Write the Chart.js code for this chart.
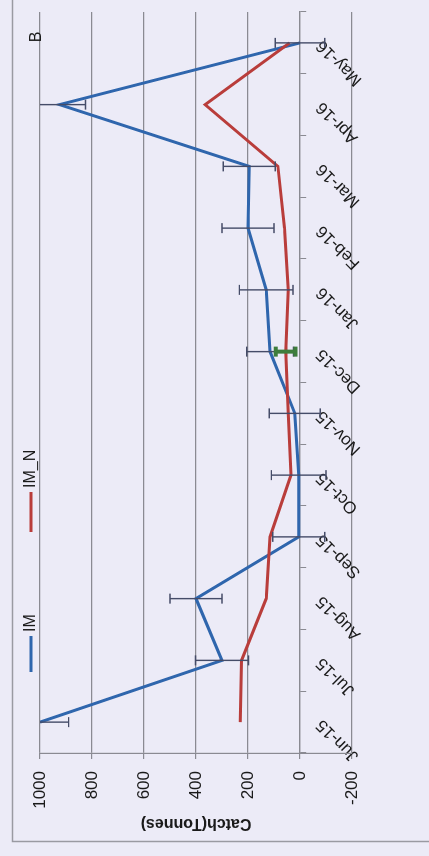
<!DOCTYPE html>
<html lang="en">
<head>
<meta charset="UTF-8">
<title>Catch (Tonnes) - IM / IM_N</title>
<script src="https://cdn.jsdelivr.net/npm/chart.js"></script>
<style>
  html, body { margin: 0; padding: 0; background: #ecebf7; }
  #wrap { position: relative; width: 429px; height: 856px; overflow: hidden; }
  /* the chart is drawn landscape, then turned a quarter to the left like the photo */
  #chart {
    position: absolute; left: 0; top: 0;
    width: 856px; height: 429px;
    transform-origin: 0 0;
    transform: translate(0, 856px) rotate(-90deg);
  }
</style>
</head>
<body>
<div id="wrap"><canvas id="chart" width="856" height="429"></canvas></div>

<script>
const months = ['Jun-15', 'Jul-15', 'Aug-15', 'Sep-15', 'Oct-15', 'Nov-15',
                'Dec-15', 'Jan-16', 'Feb-16', 'Mar-16', 'Apr-16', 'May-16'];
const imCatch  = [1000, 300, 400, 5, 5, 20, 115, 130, 200, 195, 925, 0];
const imError  = [110, 102, 100, 100, 105, 98, 90, 103, 100, 100, 100, 95];
const imnCatch = [230, 225, 130, 115, 35, 45, 55, 45, 60, 85, 365, 40];
const imnError = [null, null, null, null, null, null, 38, null, null, null, null, null];
const yTicks = [-200, 0, 200, 400, 600, 800, 1000];
const yTitle = 'Catch(Tonnes)';
const panelLabel = 'B';

const bg = '#ecebf7';
const gridColor = '#8a8a92';
const textColor = '#1a1a1a';
const fontFamily = '"Liberation Sans", Arial, sans-serif';

// page-like background and the outer chart frame
const frame = {
  id: 'frame',
  beforeDraw(chart) {
    const { ctx, width, height } = chart;
    ctx.save();
    ctx.fillStyle = bg;
    ctx.fillRect(0, 0, width, height);
    ctx.strokeStyle = '#9a9aa2';
    ctx.lineWidth = 1.5;
    ctx.strokeRect(14.5, 12.5, width, height);
    ctx.restore();
  }
};

// vertical error bars with caps, clipped to the plot area
const errorBars = {
  id: 'errorBars',
  afterDatasetsDraw(chart) {
    const { ctx, chartArea: a, scales: { x, y } } = chart;
    ctx.save();
    ctx.beginPath();
    ctx.rect(a.left, a.top, a.right - a.left, a.bottom - a.top);
    ctx.clip();
    chart.data.datasets.forEach(ds => {
      if (!ds.errors) return;
      ctx.strokeStyle = ds.errorColor;
      ctx.lineWidth = ds.errorWidth;
      ds.data.forEach((v, i) => {
        const e = ds.errors[i];
        if (e == null) return;
        const px = x.getPixelForValue(i);
        const hi = y.getPixelForValue(v + e);
        const lo = y.getPixelForValue(v - e);
        ctx.beginPath();
        ctx.moveTo(px, hi); ctx.lineTo(px, lo);
        ctx.moveTo(px - 5, hi); ctx.lineTo(px + 5, hi);
        ctx.moveTo(px - 5, lo); ctx.lineTo(px + 5, lo);
        ctx.stroke();
      });
    });
    ctx.restore();
  }
};

// Excel style legend above the plot, plus the panel letter
const legendAndLabel = {
  id: 'legendAndLabel',
  afterDraw(chart) {
    const { ctx, chartArea: a } = chart;
    const slots = [{ x0: 184, x1: 220 }, { x0: 324, x1: 364 }];
    const ly = 31;
    ctx.save();
    ctx.font = '16px ' + fontFamily;
    ctx.textBaseline = 'middle';
    ctx.fillStyle = textColor;
    chart.data.datasets.forEach((ds, i) => {
      const s = slots[i];
      ctx.strokeStyle = ds.borderColor;
      ctx.lineWidth = 3;
      ctx.beginPath();
      ctx.moveTo(s.x0, ly); ctx.lineTo(s.x1, ly);
      ctx.stroke();
      ctx.fillText(ds.label, s.x1 + 4, ly);
    });
    ctx.textAlign = 'center';
    ctx.fillText(panelLabel, a.right - 25, 37);
    ctx.restore();
  }
};

new Chart(document.getElementById('chart'), {
  type: 'line',
  data: {
    labels: months,
    datasets: [
      {
        label: 'IM', data: imCatch, order: 1,
        borderColor: '#2f66ad', borderWidth: 3,
        pointRadius: 0, tension: 0,
        errors: imError, errorColor: '#454c68', errorWidth: 1.4
      },
      {
        label: 'IM_N', data: imnCatch, order: 0,
        borderColor: '#b93d3b', borderWidth: 3,
        pointRadius: 0, tension: 0,
        errors: imnError, errorColor: '#3e7d3c', errorWidth: 4
      }
    ]
  },
  options: {
    responsive: false,
    animation: false,
    layout: { padding: { left: 14, top: 40, right: 12, bottom: 77 } },
    plugins: {
      legend: { display: false },
      tooltip: { enabled: false }
    },
    scales: {
      x: {
        type: 'category',
        offset: true,
        position: { y: 0 },
        grid: { drawOnChartArea: false, offset: true, tickLength: 6, color: gridColor },
        border: { color: gridColor, width: 1.2 },
        ticks: {
          color: textColor, font: { size: 17, family: fontFamily },
          minRotation: 45, maxRotation: 45, autoSkip: false, padding: 6
        }
      },
      y: {
        min: yTicks[0],
        max: yTicks[yTicks.length - 1],
        afterBuildTicks(s) { s.ticks = yTicks.map(v => ({ value: v })); },
        afterFit(s) { s.width = 89; },
        grid: { color: gridColor, lineWidth: 1.2, tickLength: 6 },
        border: { color: gridColor, width: 1.2 },
        ticks: {
          color: textColor, font: { size: 17, family: fontFamily }, padding: 12,
          callback: v => String(v)
        },
        title: {
          display: true, text: yTitle, color: textColor,
          font: { size: 16, weight: 'bold', family: fontFamily },
          padding: { top: 9, bottom: 0 }
        }
      }
    }
  },
  plugins: [frame, errorBars, legendAndLabel]
});
</script>
</body>
</html>
